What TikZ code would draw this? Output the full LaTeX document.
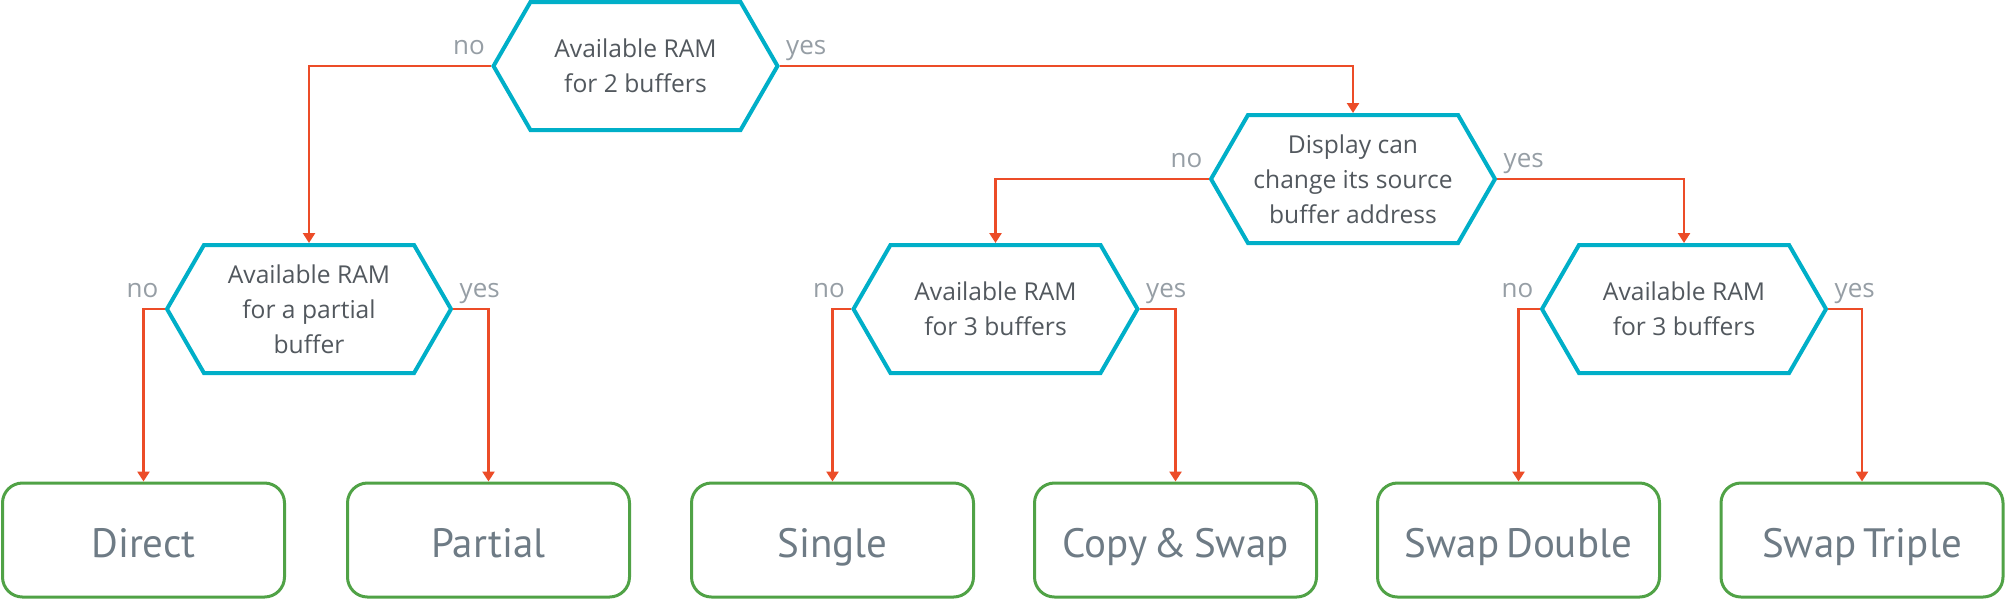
\documentclass[tikz,border=0pt]{standalone}
\usepackage{fontspec}
\setmainfont{Open Sans}
\newfontfamily\boxfont{PT Sans}
\usepackage{tikz}
\usetikzlibrary{arrows.meta, shapes.symbols}
\usepackage{xcolor}
\definecolor{hexblue}{RGB}{0,175,200}
\definecolor{flowred}{RGB}{236,76,40}
\definecolor{leafgreen}{RGB}{80,162,70}
\definecolor{qtext}{RGB}{82,88,94}
\definecolor{leaftext}{RGB}{110,123,133}
\definecolor{yntext}{RGB}{150,158,165}

\begin{document}
\begin{tikzpicture}[x=0.5pt, y=-0.5pt,
  question/.style={draw=hexblue, line width=2pt, fill=white, shape=signal,
    signal to=west and east, signal pointer angle=120, inner sep=0pt,
    minimum width=142pt, minimum height=64pt, align=center, text=qtext,
    font=\fontsize{12.3}{17.5}\selectfont},
  leaf/.style={draw=leafgreen, line width=1.5pt, rounded corners=10pt,
    minimum width=141pt, minimum height=57pt, text=leaftext,
    text height=20pt, text depth=3pt,
    font=\boxfont\fontsize{20.5}{24}\selectfont},
  flow/.style={draw=flowred, line width=1.3pt, -{Triangle[width=6pt,length=5pt]}},
  yn/.style={text=yntext, inner sep=0pt, font=\fontsize{13}{15}\selectfont}]
  \useasboundingbox (0,0) rectangle (2007,602);

  % decisions
  \node[question] (ram2) at (635.5, 66) {Available RAM\\for 2 buffers};
  \node[question] (swapaddr) at (1353, 179) {Display can\\change its source\\buffer address};
  \node[question] (ramPart) at (309, 309) {Available RAM\\for a partial\\buffer};
  \node[question] (ram3a) at (995.5, 309) {Available RAM\\for 3 buffers};
  \node[question] (ram3b) at (1684, 309) {Available RAM\\for 3 buffers};

  % results
  \node[leaf] (direct) at (143.5, 540) {Direct};
  \node[leaf] (partial) at (488.5, 540) {Partial};
  \node[leaf] (single) at (832.5, 540) {Single};
  \node[leaf] (copyswap) at (1175.5, 540) {Copy\,\&\,Swap};
  \node[leaf] (swapdouble) at (1518.5, 540) {Swap\,Double};
  \node[leaf] (swaptriple) at (1862, 540) {Swap\,Triple};

  % branches
  \draw[flow] (ram2.west) -| (ramPart.north);
  \draw[flow] (ram2.east) -| (swapaddr.north);
  \draw[flow] (swapaddr.west) -| (ram3a.north);
  \draw[flow] (swapaddr.east) -| (ram3b.north);
  \draw[flow] (ramPart.west) -| (direct.north);
  \draw[flow] (ramPart.east) -| (partial.north);
  \draw[flow] (ram3a.west) -| (single.north);
  \draw[flow] (ram3a.east) -| (copyswap.north);
  \draw[flow] (ram3b.west) -| (swapdouble.north);
  \draw[flow] (ram3b.east) -| (swaptriple.north);

  % yes / no
  \foreach \q in {ram2, swapaddr, ramPart, ram3a, ram3b} {
    \node[yn, anchor=base east] (\q-no) at ([shift={(-3pt,6pt)}]\q.west) {no};
    \node[yn, anchor=base west] (\q-yes) at ([shift={(3pt,6pt)}]\q.east) {yes};
  }
\end{tikzpicture}
\end{document}
